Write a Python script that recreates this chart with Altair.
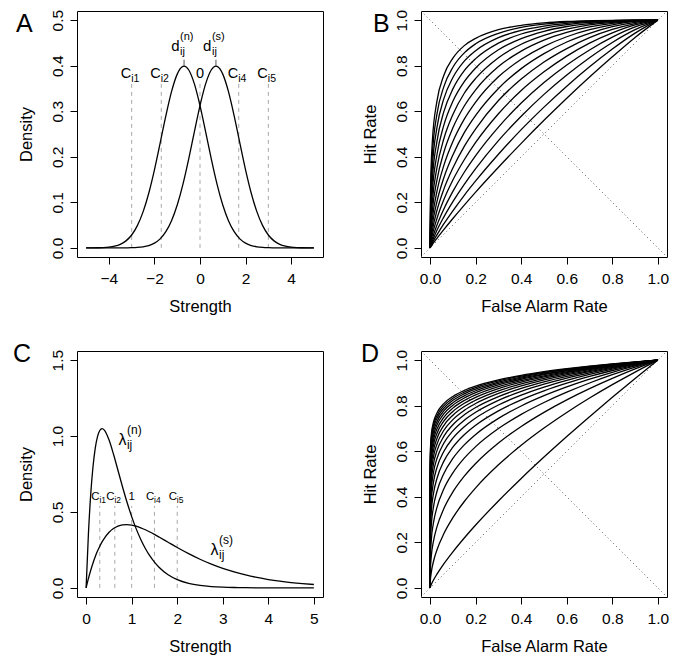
import altair as alt
import pandas as pd

FONT = "Liberation Sans"
W, H = 246, 246

# ---------------- Panel A : two normal densities ----------------
A_X = [-5, -4.75, -4.5, -4.25, -4, -3.75, -3.5, -3.25, -3, -2.75, -2.5, -2.25, -2, -1.75,
       -1.5, -1.25, -1, -0.75, -0.7, -0.5, -0.25, 0, 0.25, 0.5, 0.7, 0.75, 1, 1.25, 1.5,
       1.75, 2, 2.25, 2.5, 2.75, 3, 3.25, 3.5, 3.75, 4, 4.25, 4.5, 4.75, 5]
A_NOISE = [0.0000, 0.0001, 0.0003, 0.0007, 0.0017, 0.0038, 0.0079, 0.0154, 0.0283, 0.0488,
           0.0790, 0.1200, 0.1714, 0.2299, 0.2897, 0.3429, 0.3814, 0.3984, 0.3989, 0.3910,
           0.3605, 0.3123, 0.2541, 0.1942, 0.1497, 0.1394, 0.0940, 0.0596, 0.0355, 0.0198,
           0.0104, 0.0051, 0.0024, 0.0010, 0.0004, 0.0002, 0.0001, 0.0000, 0.0000, 0.0000,
           0.0000, 0.0000, 0.0000]
A_SIGNAL = [0.0000, 0.0000, 0.0000, 0.0000, 0.0000, 0.0000, 0.0001, 0.0002, 0.0004, 0.0010,
            0.0024, 0.0051, 0.0104, 0.0198, 0.0355, 0.0596, 0.0940, 0.1394, 0.1497, 0.1942,
            0.2541, 0.3123, 0.3605, 0.3910, 0.3989, 0.3984, 0.3814, 0.3429, 0.2897, 0.2299,
            0.1714, 0.1200, 0.0790, 0.0488, 0.0283, 0.0154, 0.0079, 0.0038, 0.0017, 0.0007,
            0.0003, 0.0001, 0.0000]
A_CRIT = [-3.0, -1.7, 1.7, 3.0]
A_CRIT_SUB = ["i1", "i2", "i4", "i5"]
A_ZERO = [0.0]
A_CRIT_TOP = 0.36
A_LABEL_Y = 0.372
A_MEANS = [-0.7, 0.7]
A_MEAN_SUP = ["(n)", "(s)"]
A_MEAN_LABEL_Y = 0.432
A_XTICKS = [-4, -2, 0, 2, 4]
A_YTICKS = [0, 0.1, 0.2, 0.3, 0.4, 0.5]

# ---------------- Panel B : equal-variance ROC curves ----------------
B_FA = [0, 0.002, 0.01, 0.03, 0.06, 0.1, 0.15, 0.2, 0.3, 0.4, 0.5, 0.6, 0.7, 0.8, 0.9, 1.0]
B_HIT = [
    [0, 0.003, 0.015, 0.042, 0.080, 0.129, 0.188, 0.245, 0.354, 0.459, 0.560, 0.657, 0.750, 0.839, 0.924, 1],
    [0, 0.005, 0.022, 0.057, 0.105, 0.163, 0.231, 0.294, 0.411, 0.519, 0.618, 0.710, 0.795, 0.873, 0.943, 1],
    [0, 0.008, 0.030, 0.077, 0.135, 0.203, 0.279, 0.348, 0.471, 0.578, 0.674, 0.759, 0.835, 0.902, 0.958, 1],
    [0, 0.011, 0.042, 0.100, 0.170, 0.248, 0.332, 0.405, 0.530, 0.636, 0.726, 0.803, 0.869, 0.925, 0.970, 1],
    [0, 0.017, 0.058, 0.129, 0.211, 0.298, 0.387, 0.463, 0.589, 0.691, 0.773, 0.842, 0.899, 0.944, 0.979, 1],
    [0, 0.024, 0.077, 0.164, 0.257, 0.351, 0.446, 0.523, 0.647, 0.741, 0.816, 0.875, 0.923, 0.959, 0.985, 1],
    [0, 0.034, 0.101, 0.203, 0.307, 0.408, 0.506, 0.582, 0.700, 0.787, 0.853, 0.904, 0.942, 0.971, 0.990, 1],
    [0, 0.047, 0.130, 0.248, 0.361, 0.467, 0.565, 0.640, 0.751, 0.828, 0.885, 0.927, 0.958, 0.979, 0.994, 1],
    [0, 0.063, 0.165, 0.298, 0.419, 0.527, 0.623, 0.694, 0.796, 0.864, 0.912, 0.946, 0.970, 0.986, 0.996, 1],
    [0, 0.084, 0.205, 0.352, 0.478, 0.586, 0.679, 0.744, 0.835, 0.894, 0.933, 0.960, 0.979, 0.990, 0.997, 1],
    [0, 0.110, 0.250, 0.409, 0.538, 0.644, 0.730, 0.790, 0.870, 0.919, 0.951, 0.972, 0.985, 0.994, 0.998, 1],
    [0, 0.141, 0.300, 0.468, 0.597, 0.698, 0.778, 0.831, 0.899, 0.939, 0.964, 0.980, 0.990, 0.996, 0.999, 1],
    [0, 0.177, 0.354, 0.528, 0.654, 0.748, 0.820, 0.866, 0.923, 0.955, 0.974, 0.986, 0.993, 0.997, 0.9994, 1],
    [0, 0.219, 0.411, 0.587, 0.707, 0.793, 0.856, 0.896, 0.942, 0.968, 0.982, 0.991, 0.996, 0.998, 0.9996, 1],
    [0, 0.265, 0.470, 0.644, 0.757, 0.833, 0.888, 0.920, 0.958, 0.977, 0.988, 0.994, 0.997, 0.999, 0.9998, 1],
]
ROC_TICKS = [0, 0.2, 0.4, 0.6, 0.8, 1.0]

# ---------------- Panel C : skewed densities ----------------
C_X = [0, 0.05, 0.1, 0.15, 0.2, 0.25, 0.3, 0.35, 0.4, 0.5, 0.6, 0.7, 0.8, 0.9, 1.0, 1.1,
       1.2, 1.3, 1.4, 1.5, 1.6, 1.8, 2.0, 2.25, 2.5, 2.75, 3.0, 3.25, 3.5, 3.75, 4.0, 4.25,
       4.5, 4.75, 5.0]
C_NOISE = [0, 0.3522, 0.6108, 0.7946, 0.9187, 0.9958, 1.0363, 1.0485, 1.0390, 0.9767,
           0.8816, 0.7733, 0.6647, 0.5622, 0.4695, 0.3886, 0.3188, 0.2597, 0.2103, 0.1695,
           0.1359, 0.0865, 0.0544, 0.0300, 0.0163, 0.0088, 0.0047, 0.0025, 0.0013, 0.0007,
           0.0004, 0.0002, 0.0001, 0.0000, 0.0000]
C_SIGNAL = [0, 0.0608, 0.1148, 0.1627, 0.2050, 0.2422, 0.2745, 0.3027, 0.3268, 0.3647,
            0.3907, 0.4070, 0.4153, 0.4171, 0.4137, 0.4064, 0.3958, 0.3828, 0.3680, 0.3520,
            0.3352, 0.3007, 0.2663, 0.2257, 0.1888, 0.1564, 0.1285, 0.1048, 0.0850, 0.0686,
            0.0551, 0.0441, 0.0352, 0.0280, 0.0222]
C_CRIT = [0.3, 0.63, 1.5, 2.0]
C_CRIT_SUB = ["i1", "i2", "i4", "i5"]
C_ONE = [1.0]
C_CRIT_TOP = 0.54
C_LABEL_Y = 0.577
C_LAMBDA_X = [0.71, 2.73]
C_LAMBDA_Y = [0.94, 0.215]
C_LAMBDA_SUP = ["(n)", "(s)"]
C_XTICKS = [0, 1, 2, 3, 4, 5]
C_YTICKS = [0, 0.5, 1.0, 1.5]

# ---------------- Panel D : power-law ROC curves ----------------
D_FA = [0, 0.0001, 0.001, 0.005, 0.015, 0.03, 0.06, 0.1, 0.15, 0.2, 0.3, 0.4, 0.5, 0.6, 0.7, 0.8, 0.9, 1.0]
D_HIT = [
    [0, 0.0006, 0.0040, 0.0144, 0.0347, 0.0605, 0.1053, 0.1585, 0.2192, 0.2760, 0.3817, 0.4805, 0.5744, 0.6646, 0.7517, 0.8365, 0.9192, 1],
    [0, 0.0090, 0.0293, 0.0667, 0.1169, 0.1666, 0.2374, 0.3082, 0.3792, 0.4393, 0.5404, 0.6261, 0.7017, 0.7702, 0.8334, 0.8922, 0.9475, 1],
    [0, 0.0315, 0.0748, 0.1367, 0.2066, 0.2680, 0.3477, 0.4213, 0.4905, 0.5464, 0.6363, 0.7088, 0.7708, 0.8255, 0.8747, 0.9196, 0.9612, 1],
    [0, 0.0650, 0.1287, 0.2075, 0.2875, 0.3532, 0.4338, 0.5049, 0.5694, 0.6202, 0.6995, 0.7619, 0.8140, 0.8593, 0.8995, 0.9359, 0.9692, 1],
    [0, 0.1044, 0.1837, 0.2726, 0.3570, 0.4231, 0.5015, 0.5685, 0.6279, 0.6738, 0.7443, 0.7987, 0.8437, 0.8822, 0.9162, 0.9467, 0.9745, 1],
    [0, 0.1458, 0.2359, 0.3303, 0.4156, 0.4804, 0.5553, 0.6178, 0.6725, 0.7143, 0.7774, 0.8256, 0.8651, 0.8987, 0.9281, 0.9544, 0.9782, 1],
    [0, 0.1867, 0.2841, 0.3809, 0.4652, 0.5279, 0.5989, 0.6574, 0.7077, 0.7459, 0.8030, 0.8462, 0.8813, 0.9111, 0.9371, 0.9602, 0.9810, 1],
    [0, 0.2261, 0.3280, 0.4252, 0.5077, 0.5678, 0.6350, 0.6896, 0.7362, 0.7712, 0.8234, 0.8625, 0.8941, 0.9209, 0.9440, 0.9646, 0.9831, 1],
    [0, 0.2632, 0.3676, 0.4641, 0.5441, 0.6016, 0.6652, 0.7163, 0.7597, 0.7920, 0.8399, 0.8757, 0.9045, 0.9287, 0.9496, 0.9682, 0.9848, 1],
    [0, 0.2981, 0.4035, 0.4985, 0.5759, 0.6308, 0.6910, 0.7389, 0.7794, 0.8094, 0.8537, 0.8866, 0.9129, 0.9351, 0.9542, 0.9711, 0.9863, 1],
    [0, 0.3303, 0.4356, 0.5287, 0.6034, 0.6558, 0.7128, 0.7581, 0.7960, 0.8240, 0.8652, 0.8957, 0.9200, 0.9404, 0.9580, 0.9735, 0.9874, 1],
    [0, 0.3604, 0.4652, 0.5559, 0.6280, 0.6781, 0.7322, 0.7748, 0.8104, 0.8367, 0.8751, 0.9035, 0.9261, 0.9450, 0.9612, 0.9756, 0.9884, 1],
    [0, 0.3880, 0.4916, 0.5800, 0.6494, 0.6973, 0.7489, 0.7892, 0.8228, 0.8475, 0.8836, 0.9101, 0.9312, 0.9488, 0.9640, 0.9773, 0.9892, 1],
    [0, 0.4138, 0.5159, 0.6020, 0.6688, 0.7147, 0.7638, 0.8021, 0.8338, 0.8571, 0.8911, 0.9160, 0.9358, 0.9523, 0.9664, 0.9788, 0.9900, 1],
    [0, 0.4373, 0.5378, 0.6214, 0.6859, 0.7299, 0.7768, 0.8132, 0.8433, 0.8655, 0.8975, 0.9210, 0.9397, 0.9551, 0.9685, 0.9802, 0.9905, 1],
    [0, 0.4597, 0.5582, 0.6394, 0.7015, 0.7438, 0.7886, 0.8234, 0.8521, 0.8730, 0.9034, 0.9256, 0.9432, 0.9578, 0.9703, 0.9814, 0.9911, 1],
    [0, 0.4799, 0.5767, 0.6556, 0.7156, 0.7562, 0.7991, 0.8323, 0.8597, 0.8796, 0.9085, 0.9296, 0.9463, 0.9601, 0.9720, 0.9824, 0.9916, 1],
    [0, 0.4993, 0.5941, 0.6707, 0.7286, 0.7677, 0.8089, 0.8406, 0.8668, 0.8858, 0.9132, 0.9332, 0.9491, 0.9622, 0.9735, 0.9833, 0.9921, 1],
]
DIAG_LO, DIAG_HI = -0.04, 1.04

PANEL_LETTERS = ["A", "B", "C", "D"]
LETTER_POS = [(-61, 21), (-48, 21), (-64, 11), (-60, 11)]


# ---------------- helpers ----------------
def curves_df(xs, rows):
    recs = []
    for i, row in enumerate(rows):
        for x, y in zip(xs, row):
            recs.append({"x": x, "y": y, "curve": i})
    return pd.DataFrame(recs)


def axes(xdom, ydom, xt, xf, xtitle, yt, yf, ytitle):
    X = alt.X("x:Q", scale=alt.Scale(domain=xdom, nice=False, zero=False),
              axis=alt.Axis(values=xt, format=xf, title=xtitle, titleX=W / 2, titleY=49,
                            titleAlign="center", titleBaseline="middle",
                            labelPadding=14, labelBaseline="middle", labelAlign="center",
                            labelFlush=False, tickSize=7))
    Y = alt.Y("y:Q", scale=alt.Scale(domain=ydom, nice=False, zero=False),
              axis=alt.Axis(values=yt, format=yf, title=ytitle, titleX=-50.5, titleY=H / 2,
                            titleAngle=270, titleAlign="center", titleBaseline="middle",
                            labelAngle=270, labelAlign="center", labelBaseline="middle",
                            labelPadding=12.5, labelFlush=False, tickSize=7))
    return X, Y


def letter(i):
    dx, dy = LETTER_POS[i]
    return alt.Chart(pd.DataFrame({"t": [PANEL_LETTERS[i]]})).mark_text(
        align="left", baseline="alphabetic", fontSize=25, font=FONT, color="black"
    ).encode(text="t:N", x=alt.value(dx), y=alt.value(dy))


def lines(df, X, Y):
    return alt.Chart(df).mark_line(color="black", strokeWidth=1.3, interpolate="monotone").encode(
        x=X, y=Y, detail="curve:N")


def vrules(xs, top, X, Y, color="#a8a8a8", dash=(4, 4)):
    df = pd.DataFrame({"x": xs, "y": [0.0] * len(xs), "y2": [top] * len(xs)})
    return alt.Chart(df).mark_rule(color=color, strokeWidth=1, strokeDash=list(dash)).encode(
        x=X, y=Y, y2=alt.Y2("y2:Q"))


def subscripted(df, X, Y, main_size, small_size, main_dx, small_dx, sub_dy, sup_dy, main_align):
    base = alt.Chart(df)
    out = [base.mark_text(align=main_align, baseline="alphabetic", fontSize=main_size, font=FONT,
                          color="black", dx=main_dx).encode(x=X, y=Y, text="main:N"),
           base.mark_text(align="left", baseline="alphabetic", fontSize=small_size, font=FONT,
                          color="black", dx=small_dx, dy=sub_dy).encode(x=X, y=Y, text="sub:N")]
    if "sup" in df.columns:
        out.append(base.mark_text(align="left", baseline="alphabetic", fontSize=small_size,
                                  font=FONT, color="black", dx=small_dx, dy=sup_dy).encode(
            x=X, y=Y, text="sup:N"))
    return out


def plain_text(xs, y, label, size, X, Y):
    df = pd.DataFrame({"x": xs, "y": [y] * len(xs), "t": [label] * len(xs)})
    return alt.Chart(df).mark_text(align="center", baseline="alphabetic", fontSize=size, font=FONT,
                                   color="black").encode(x=X, y=Y, text="t:N")


def diagonals(X, Y):
    df = pd.DataFrame({"x": [DIAG_LO, DIAG_LO], "y": [DIAG_LO, DIAG_HI],
                       "x2": [DIAG_HI, DIAG_HI], "y2": [DIAG_HI, DIAG_LO]})
    return alt.Chart(df).mark_rule(color="#555555", strokeWidth=1, strokeDash=[1, 3]).encode(
        x=X, y=Y, x2=alt.X2("x2:Q"), y2=alt.Y2("y2:Q"))


# ---------------- Panel A ----------------
XA, YA = axes([-5.4, 5.4], [-0.02, 0.52], A_XTICKS, "d", "Strength", A_YTICKS, ".1f", "Density")
dfA = curves_df(A_X, [A_NOISE, A_SIGNAL])
critA = pd.DataFrame({"x": A_CRIT, "y": [A_LABEL_Y] * 4, "main": ["C"] * 4, "sub": A_CRIT_SUB})
meanA = pd.DataFrame({"x": A_MEANS, "y": [A_MEAN_LABEL_Y] * 2, "main": ["d", "d"],
                      "sub": ["ij", "ij"], "sup": A_MEAN_SUP})
peakA = pd.DataFrame({"x": A_MEANS, "y": [0.399, 0.399], "y2": [0.413, 0.413]})
panelA = alt.layer(
    vrules(A_CRIT + A_ZERO, A_CRIT_TOP, XA, YA),
    lines(dfA, XA, YA),
    alt.Chart(peakA).mark_rule(color="#555555", strokeWidth=1).encode(x=XA, y=YA, y2=alt.Y2("y2:Q")),
    *subscripted(critA, XA, YA, 14.5, 10.5, -0.5, -0.5, 4, 0, "right"),
    plain_text(A_ZERO, A_LABEL_Y, "0", 14.5, XA, YA),
    *subscripted(meanA, XA, YA, 15, 11, -4.5, -4, 4, -11, "right"),
    letter(0),
).properties(width=W, height=H)

# ---------------- Panel B ----------------
XB, YB = axes([DIAG_LO, DIAG_HI], [DIAG_LO, DIAG_HI], ROC_TICKS, ".1f", "False Alarm Rate",
              ROC_TICKS, ".1f", "Hit Rate")
panelB = alt.layer(
    diagonals(XB, YB),
    lines(curves_df(B_FA, B_HIT), XB, YB),
    letter(1),
).properties(width=W, height=H)

# ---------------- Panel C ----------------
XC, YC = axes([-0.2, 5.2], [-0.06, 1.56], C_XTICKS, "d", "Strength", C_YTICKS, ".1f", "Density")
dfC = curves_df(C_X, [C_NOISE, C_SIGNAL])
critC = pd.DataFrame({"x": C_CRIT, "y": [C_LABEL_Y] * 4, "main": ["C"] * 4, "sub": C_CRIT_SUB})
lamC = pd.DataFrame({"x": C_LAMBDA_X, "y": C_LAMBDA_Y, "main": ["λ", "λ"], "sub": ["ij", "ij"],
                     "sup": C_LAMBDA_SUP})
panelC = alt.layer(
    vrules(C_CRIT + C_ONE, C_CRIT_TOP, XC, YC),
    lines(dfC, XC, YC),
    *subscripted(critC, XC, YC, 11.5, 8.5, -0.2, -0.4, 3, 0, "right"),
    plain_text(C_ONE, C_LABEL_Y, "1", 11.5, XC, YC),
    *subscripted(lamC, XC, YC, 16, 12, 0, 8.5, 4, -11, "left"),
    letter(2),
).properties(width=W, height=H)

# ---------------- Panel D ----------------
XD, YD = axes([DIAG_LO, DIAG_HI], [DIAG_LO, DIAG_HI], ROC_TICKS, ".1f", "False Alarm Rate",
              ROC_TICKS, ".1f", "Hit Rate")
panelD = alt.layer(
    diagonals(XD, YD),
    lines(curves_df(D_FA, D_HIT), XD, YD),
    letter(3),
).properties(width=W, height=H)

chart = alt.concat(
    panelA, panelB, panelC, panelD, columns=2,
    spacing={"row": 94, "column": 98}, bounds="flush",
    padding={"left": 4, "top": 0, "right": 5, "bottom": 5},
).configure_axis(
    labelFont=FONT, titleFont=FONT, labelFontSize=15.5, titleFontSize=16.5,
    titleFontWeight="normal", labelColor="black", titleColor="black",
    tickColor="black", tickWidth=1, domain=False, grid=False,
    labelOverlap=False, labelBound=False,
).configure_view(stroke="black", strokeWidth=1)

chart.save("out.html", embed_options={"renderer": "svg", "actions": False})
